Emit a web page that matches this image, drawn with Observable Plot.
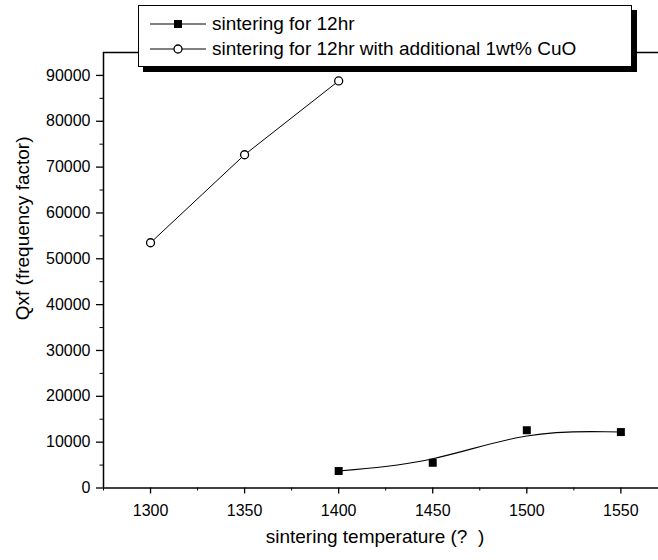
<!DOCTYPE html>
<html>
<head>
<meta charset="utf-8">
<script src="https://cdn.jsdelivr.net/npm/d3@7"></script>
<script src="https://cdn.jsdelivr.net/npm/@observablehq/plot@0.6"></script>
<style>
  body { margin: 0; background: #fff; font-family: "Liberation Sans", Arial, sans-serif; }
  #wrap { position: relative; width: 658px; height: 560px; overflow: hidden; }
  #wrap svg text { white-space: pre; }
  #legend {
    position: absolute; left: 138px; top: 5px; width: 494px; height: 62px;
    background: #fff; border: 1.5px solid #000; box-shadow: 5px 5px 0 #000;
    box-sizing: border-box; padding: 5px 0 0 10px;
  }
  .row { display: flex; align-items: center; height: 25px; font-size: 19px; color: #000; white-space: nowrap; }
  .row svg { margin-right: 5px; }
</style>
</head>
<body>
<div id="wrap"><div id="legend"></div></div>
<script>
// Sintering temperatures (°C) and Qxf values
const temps12 = [1400, 1450, 1500, 1550];
const qf12 = [3700, 5500, 12600, 12200];
const tempsCuO = [1300, 1350, 1400];
const qfCuO = [53500, 72700, 88800];

const seriesNames = ["sintering for 12hr", "sintering for 12hr with additional 1wt% CuO"];

const xTicks = [1300, 1350, 1400, 1450, 1500, 1550];
const xMinor = [1275, 1325, 1375, 1425, 1475, 1525];
const yTicks = [0, 10000, 20000, 30000, 40000, 50000, 60000, 70000, 80000, 90000];
const yMinor = [5000, 15000, 25000, 35000, 45000, 55000, 65000, 75000, 85000];

const xTitle = "sintering temperature (?  )";
const yTitle = "Qxf (frequency factor)";

const data12 = temps12.map((t, i) => ({t, q: qf12[i]}));
const dataCuO = tempsCuO.map((t, i) => ({t, q: qfCuO[i]}));

const font = "Liberation Sans, Arial, sans-serif";

const chart = Plot.plot({
  width: 658,
  height: 560,
  marginLeft: 103,
  marginRight: 0,
  marginTop: 52,
  marginBottom: 72.5,
  style: {fontFamily: font, color: "#000", background: "#fff"},
  x: {domain: [1275, 1570]},
  y: {domain: [0, 95000]},
  marks: [
    // frame: left, top and bottom edges
    Plot.ruleX([1275], {strokeWidth: 1.5}),
    Plot.ruleY([95000], {strokeWidth: 1.5}),
    Plot.ruleY([0], {strokeWidth: 1.5}),
    Plot.axisX(xTicks, {tickSize: 6, tickPadding: 11, fontSize: 16, label: null, tickFormat: d => String(d), strokeWidth: 1.3}),
    Plot.axisX(xMinor, {tickSize: 3, tickFormat: () => "", label: null}),
    Plot.axisY(yTicks, {tickSize: 7, tickPadding: 6, fontSize: 16, label: null, tickFormat: d => String(d), strokeWidth: 1.3}),
    Plot.axisY(yMinor, {tickSize: 3.5, tickFormat: () => "", label: null}),
    Plot.text([xTitle], {frameAnchor: "bottom", dy: 55, dx: -6, fontSize: 19}),
    Plot.text([yTitle], {frameAnchor: "left", dx: -81, dy: 50, rotate: -90, fontSize: 19}),
    // series with 12 h sintering: smoothed curve + filled squares
    Plot.line(data12, {x: "t", y: "q", curve: "basis", stroke: "#000", strokeWidth: 1.1}),
    Plot.dot(data12, {x: "t", y: "q", symbol: "square", r: 4.5, fill: "#000", stroke: "none"}),
    // series with added CuO: straight segments + open circles
    Plot.line(dataCuO, {x: "t", y: "q", stroke: "#000", strokeWidth: 1}),
    Plot.dot(dataCuO, {x: "t", y: "q", r: 4, fill: "#fff", stroke: "#000", strokeWidth: 1.3})
  ]
});

const wrap = document.getElementById("wrap");
wrap.insertBefore(chart, wrap.firstChild);
chart.style.position = "absolute";
chart.style.left = "0";
chart.style.top = "0";

// legend rows with sample line and marker
const legend = d3.select("#legend");
seriesNames.forEach((name, i) => {
  const row = legend.append("div").attr("class", "row");
  const svg = row.append("svg").attr("width", 58).attr("height", 14);
  svg.append("line").attr("x1", 1).attr("x2", 57).attr("y1", 7).attr("y2", 7)
    .attr("stroke", "#000").attr("stroke-width", 1);
  if (i === 0) {
    svg.append("rect").attr("x", 25).attr("y", 3).attr("width", 8).attr("height", 8).attr("fill", "#000");
  } else {
    svg.append("circle").attr("cx", 29).attr("cy", 7).attr("r", 4)
      .attr("fill", "#fff").attr("stroke", "#000").attr("stroke-width", 1.3);
  }
  row.append("span").text(name);
});
</script>
</body>
</html>
